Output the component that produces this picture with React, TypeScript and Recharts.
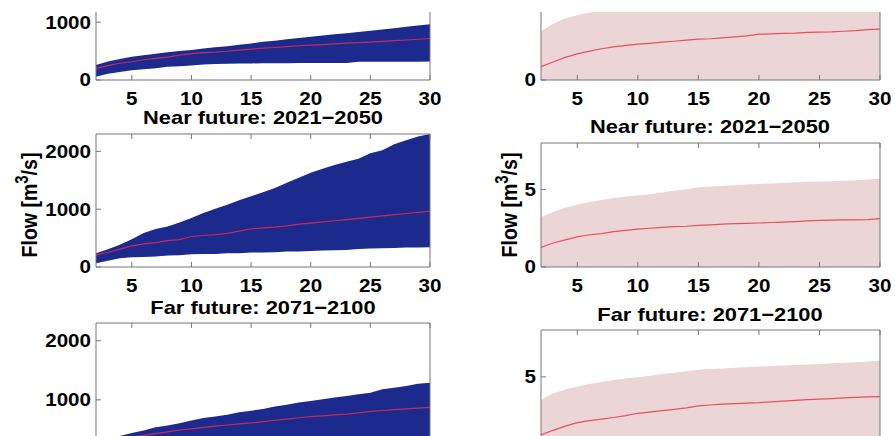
import React from "react";
import { ComposedChart, Area, Line, XAxis, YAxis } from "recharts";

// return period (years) on the x axis
const years = [2, 3, 4, 5, 6, 7, 8, 9, 10, 11, 12, 13, 14, 15, 16, 17, 18, 19, 20, 21, 22, 23, 24, 25, 26, 27, 28, 29, 30];
const xTicks = [5, 10, 15, 20, 25, 30];

// left column: flow in m3/s
const leftTicks = [0, 1000, 2000];
const ctrlLo = [55, 110, 140, 170, 185, 205, 228, 238, 250, 270, 278, 282, 285, 287, 289, 290, 291, 292, 293, 293, 294, 295, 315, 316, 316, 317, 317, 317, 318];
const ctrlHi = [260, 320, 365, 400, 430, 455, 480, 500, 518, 545, 565, 585, 610, 632, 660, 680, 705, 727, 747, 768, 790, 808, 828, 850, 873, 897, 920, 942, 965];
const ctrlMed = [200, 250, 290, 316, 350, 375, 395, 430, 455, 472, 482, 497, 517, 534, 550, 562, 577, 592, 603, 613, 626, 638, 646, 655, 667, 680, 692, 705, 718];

const nearLo = [64, 110, 151, 168, 174, 180, 197, 203, 220, 226, 226, 238, 238, 249, 252, 255, 267, 270, 278, 284, 290, 296, 313, 319, 325, 330, 336, 339, 342];
const nearHi = [238, 307, 383, 481, 586, 655, 701, 771, 846, 933, 1008, 1078, 1153, 1223, 1293, 1368, 1455, 1542, 1629, 1699, 1762, 1820, 1872, 1965, 2017, 2122, 2191, 2255, 2300];
const nearMed = [209, 255, 310, 365, 400, 420, 455, 475, 527, 545, 560, 580, 620, 661, 675, 690, 710, 740, 760, 780, 800, 820, 842, 864, 885, 905, 925, 945, 962];

const farLo = [60, 105, 145, 165, 180, 195, 205, 215, 225, 232, 238, 245, 250, 255, 260, 265, 270, 275, 280, 285, 290, 295, 300, 305, 310, 315, 320, 325, 330];
const farHi = [300, 340, 389, 439, 483, 539, 567, 606, 650, 694, 717, 750, 789, 817, 844, 889, 917, 956, 983, 1011, 1039, 1067, 1094, 1122, 1178, 1206, 1233, 1272, 1289];
const farMed = [230, 290, 335, 370, 398, 428, 460, 490, 511, 535, 555, 575, 595, 611, 632, 655, 675, 698, 717, 730, 745, 760, 780, 806, 820, 835, 848, 860, 872];

// right column: flow in m3/s
const rightTicks = [0, 5];
const rCtrlLo = [0, 0, 0, 0, 0, 0, 0, 0, 0, 0, 0, 0, 0, 0, 0, 0, 0, 0, 0, 0, 0, 0, 0, 0, 0, 0, 0, 0, 0];
const rCtrlHi = [3.1, 3.6, 3.95, 4.15, 4.3, 4.45, 4.6, 4.7, 4.8, 4.9, 5.0, 5.1, 5.15, 5.25, 5.3, 5.35, 5.4, 5.45, 5.5, 5.55, 5.6, 5.6, 5.65, 5.7, 5.72, 5.75, 5.8, 5.82, 5.85];
const rCtrlMed = [0.85, 1.15, 1.45, 1.67, 1.85, 2.0, 2.12, 2.22, 2.29, 2.35, 2.42, 2.48, 2.55, 2.61, 2.64, 2.7, 2.76, 2.83, 2.93, 2.95, 2.98, 3.0, 3.05, 3.06, 3.08, 3.12, 3.16, 3.22, 3.25];

const rNearLo = [0, 0, 0, 0, 0, 0, 0, 0, 0, 0, 0, 0, 0, 0, 0, 0, 0, 0, 0, 0, 0, 0, 0, 0, 0, 0, 0, 0, 0];
const rNearHi = [3.23, 3.55, 3.82, 4.04, 4.2, 4.33, 4.45, 4.55, 4.62, 4.7, 4.8, 4.92, 5.02, 5.15, 5.2, 5.24, 5.28, 5.32, 5.36, 5.38, 5.42, 5.46, 5.5, 5.51, 5.53, 5.56, 5.6, 5.64, 5.68];
const rNearMed = [1.26, 1.55, 1.75, 1.94, 2.08, 2.15, 2.28, 2.36, 2.44, 2.5, 2.56, 2.6, 2.63, 2.69, 2.72, 2.76, 2.8, 2.82, 2.84, 2.87, 2.9, 2.93, 2.97, 3.01, 3.03, 3.04, 3.04, 3.06, 3.12];

const rFarLo = [0, 0, 0, 0, 0, 0, 0, 0, 0, 0, 0, 0, 0, 0, 0, 0, 0, 0, 0, 0, 0, 0, 0, 0, 0, 0, 0, 0, 0];
const rFarHi = [3.53, 3.95, 4.2, 4.38, 4.55, 4.68, 4.8, 4.9, 4.98, 5.08, 5.18, 5.27, 5.36, 5.45, 5.5, 5.54, 5.58, 5.62, 5.66, 5.7, 5.73, 5.76, 5.8, 5.83, 5.87, 5.9, 5.94, 5.98, 6.03];
const rFarMed = [1.28, 1.58, 1.85, 2.07, 2.2, 2.3, 2.4, 2.52, 2.67, 2.75, 2.84, 2.92, 3.02, 3.14, 3.2, 3.25, 3.29, 3.32, 3.35, 3.4, 3.45, 3.5, 3.54, 3.57, 3.61, 3.65, 3.69, 3.72, 3.74];

const FONT = "'Liberation Sans', Arial, Helvetica, sans-serif";
const AXIS = "#777";
const BLUE = "#1b2a8c";
const PINK = "#ebd5d6";
const CROP_TOP = 12;
const PAGE_H = 436;

const build = (lo: number[], hi: number[], med: number[]) =>
  years.map((x, i) => ({ x, band: [lo[i], hi[i]], med: med[i] }));

const XTick = ({ x, y, payload }: any) => (
  <g transform={`translate(${x},${y})`}>
    <text transform="scale(1.17,1)" textAnchor="middle" dy="0.71em" fontFamily={FONT} fontWeight="bold" fontSize={17.6} fill="#000">
      {payload.value}
    </text>
  </g>
);

// labels that fall outside the cropped figure are not drawn
const makeYTick = (offsetTop: number) => ({ x, y, payload }: any) => {
  const py = y + offsetTop;
  if (py < CROP_TOP + 4 || py > PAGE_H - 8) return <g />;
  return (
    <g transform={`translate(${x},${y})`}>
      <text transform="scale(1.17,1)" textAnchor="end" dy="0.36em" fontFamily={FONT} fontWeight="bold" fontSize={17.6} fill="#000">
        {payload.value}
      </text>
    </g>
  );
};

function Panel({ left, top, w, h, data, yMax, yTicks, band, line, showX = true }: any) {
  const YTick = makeYTick(top - 21);
  return (
    <div style={{ position: "absolute", left: left - 60, top: top - 21 }}>
      <ComposedChart width={w + 81} height={h + 61} data={data} margin={{ top: 20, right: 20, left: 0, bottom: 0 }}>
        <XAxis dataKey="x" type="number" domain={[2, 30]} ticks={xTicks} height={40} stroke={AXIS}
          tickSize={-5} tickMargin={17} tick={showX ? <XTick /> : false} allowDataOverflow />
        <XAxis xAxisId="top" orientation="top" dataKey="x" type="number" domain={[2, 30]} ticks={xTicks} height={1}
          stroke={AXIS} tickSize={-5} tickFormatter={() => ""} />
        <YAxis type="number" domain={[0, yMax]} ticks={yTicks} width={60} stroke={AXIS}
          tickSize={-5} tickMargin={10} tick={<YTick />} allowDataOverflow />
        <YAxis yAxisId="right" orientation="right" type="number" domain={[0, yMax]} ticks={yTicks} width={1}
          stroke={AXIS} tickSize={-5} tickFormatter={() => ""} />
        <Area type="linear" dataKey="band" stroke="none" fill={band} fillOpacity={1} isAnimationActive={false} />
        <Line type="linear" dataKey="med" stroke={line} strokeWidth={1.2} dot={false} isAnimationActive={false} />
      </ComposedChart>
    </div>
  );
}

const Title = ({ x, y, children }: any) => (
  <div style={{ position: "absolute", left: x, top: y, transform: "translate(-50%,-50%) scaleX(1.15)", whiteSpace: "nowrap",
    fontFamily: FONT, fontWeight: "bold", fontSize: 19, color: "#000" }}>
    {children}
  </div>
);

const FlowLabel = ({ x, y }: any) => (
  <div style={{ position: "absolute", left: x, top: y, transform: "translate(-50%,-50%) rotate(-90deg) scale(1,1.17)",
    whiteSpace: "nowrap", fontFamily: FONT, fontWeight: "bold", fontSize: 19.5, color: "#000" }}>
    Flow [m<sup style={{ fontSize: 15 }}>3</sup>/s]
  </div>
);

export default function App() {
  return (
    <div style={{ position: "absolute", left: 0, top: 0, width: 895, height: PAGE_H, overflow: "hidden", background: "#fff" }}>
      <Panel left={96} top={-53} w={334} h={133} data={build(ctrlLo, ctrlHi, ctrlMed)} yMax={2300} yTicks={leftTicks} band={BLUE} line="#c8285e" />
      <Panel left={96} top={134} w={334} h={133} data={build(nearLo, nearHi, nearMed)} yMax={2300} yTicks={leftTicks} band={BLUE} line="#c8285e" />
      <Panel left={96} top={323} w={334} h={136} data={build(farLo, farHi, farMed)} yMax={2300} yTicks={leftTicks} band={BLUE} line="#c8285e" showX={false} />
      <Panel left={541} top={-45} w={339} h={125} data={build(rCtrlLo, rCtrlHi, rCtrlMed)} yMax={8} yTicks={rightTicks} band={PINK} line="#e8505c" />
      <Panel left={541} top={143} w={339} h={124} data={build(rNearLo, rNearHi, rNearMed)} yMax={8} yTicks={rightTicks} band={PINK} line="#e8505c" />
      <Panel left={541} top={330} w={339} h={125} data={build(rFarLo, rFarHi, rFarMed)} yMax={8} yTicks={rightTicks} band={PINK} line="#e8505c" showX={false} />
      <Title x={263} y={118}>Near future: 2021−2050</Title>
      <Title x={263} y={308}>Far future: 2071−2100</Title>
      <Title x={710} y={127}>Near future: 2021−2050</Title>
      <Title x={710} y={315}>Far future: 2071−2100</Title>
      <FlowLabel x={27} y={205} />
      <FlowLabel x={507} y={205} />
      <div style={{ position: "absolute", left: 0, top: 0, width: 895, height: CROP_TOP, background: "#fff" }} />
    </div>
  );
}
